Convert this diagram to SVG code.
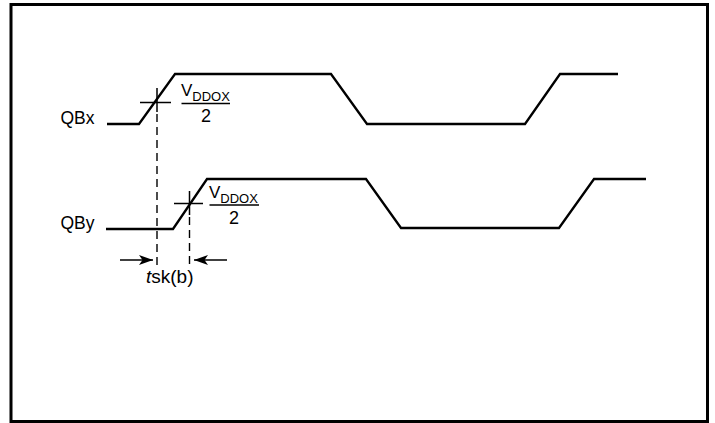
<svg xmlns="http://www.w3.org/2000/svg" width="715" height="423" viewBox="0 0 715 423">
<defs>
<style>
.frame{fill:none;stroke:#000;stroke-width:3}
.wave{fill:none;stroke:#000;stroke-width:2.3;stroke-linejoin:miter}
.tick{fill:none;stroke:#000;stroke-width:1.5}
.dash{fill:none;stroke:#000;stroke-width:1.4;stroke-dasharray:8,5}
.arr{fill:none;stroke:#000;stroke-width:1.5}
text{font-family:"Liberation Sans",Arial,sans-serif;fill:#000}
.lbl{font-size:17.5px}
.v{font-size:17px}
.sub{font-size:13px}
.two{font-size:18px}
</style>
<marker id="ah" viewBox="0 0 14 10" refX="14" refY="5" markerWidth="14" markerHeight="10" markerUnits="userSpaceOnUse" orient="auto">
<path d="M0,0 L14,5 L0,10 L3.5,5 Z" fill="#000"/>
</marker>
</defs>
<rect class="frame" x="11" y="4.5" width="696.5" height="417"/>
<g id="QBx">
<text class="lbl" x="60.5" y="124">QBx</text>
<path class="wave" d="M107,124 H139 L175,74 H331 L367,124 H525 L560,74 H618"/>
<path class="tick" d="M140,102.5 H171 M157,88 V112"/>
<text class="v" x="181" y="96">V<tspan class="sub" dy="5">DDOX</tspan></text>
<path class="tick" d="M181.5,103.5 H230"/>
<text class="two" x="206" y="122" text-anchor="middle">2</text>
</g>
<g id="QBy">
<text class="lbl" x="60.5" y="229">QBy</text>
<path class="wave" d="M106,229 H173 L207,179 H366 L401,228 H559 L594,179 H646"/>
<path class="tick" d="M174,203.5 H203 M189.5,191 V215"/>
<text class="v" x="209" y="198">V<tspan class="sub" dy="5">DDOX</tspan></text>
<path class="tick" d="M209.5,205 H259"/>
<text class="two" x="234" y="223.5" text-anchor="middle">2</text>
</g>
<g id="connectors">
<path class="dash" d="M157,114 V266"/>
<path class="dash" d="M189.5,217 V266"/>
<path class="arr" d="M120,260 H153" marker-end="url(#ah)"/>
<path class="arr" d="M227,260 H194" marker-end="url(#ah)"/>
</g>
<g id="skew">
<text class="lbl" x="146" y="283" style="font-size:19px"><tspan font-style="italic">t</tspan>sk(b)</text>
</g>
</svg>
